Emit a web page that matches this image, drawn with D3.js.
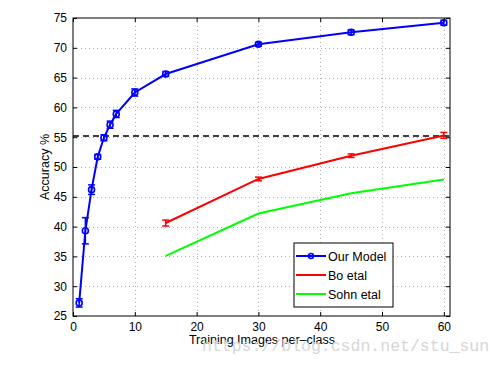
<!DOCTYPE html>
<html>
<head>
<meta charset="utf-8">
<script src="https://cdn.jsdelivr.net/npm/d3@7"></script>
<style>
  body { margin:0; background:#fff; }
  svg { display:block; font-family:"Liberation Sans", Arial, sans-serif; }
</style>
</head>
<body>
<svg id="chart"></svg>
<script>
// data
var imagesPerClass = [1, 2, 3, 4, 5, 6, 7, 10, 15, 30, 45, 60];
var ourModel       = [27.2, 39.3, 46.2, 51.7, 54.9, 57.1, 58.9, 62.5, 65.6, 70.6, 72.6, 74.2];
var ourModelErr    = [0.7, 2.2, 0.8, 0.4, 0.5, 0.6, 0.6, 0.6, 0.4, 0.3, 0.4, 0.4];
var boX            = [15, 30, 45, 60];
var boEtal         = [40.6, 48.0, 51.9, 55.3];
var boErr          = [0.5, 0.3, 0.3, 0.5];
var sohnX          = [15, 30, 45, 60];
var sohnEtal       = [35.1, 42.2, 45.6, 47.9];
var baseline       = 55.2;
var xTicks = [0, 10, 20, 30, 40, 50, 60];
var yTicks = [25, 30, 35, 40, 45, 50, 55, 60, 65, 70, 75];
var legendNames = ["Our Model", "Bo etal", "Sohn etal"];
var colors = ["#0000ff", "#ff0000", "#00ff00"];

var screen = {width:503, height:368};
var plot = {left:73, top:18, right:450, bottom:316};

var svg = d3.select("#chart")
    .attr("width", screen.width)
    .attr("height", screen.height);

var xScale = d3.scaleLinear().domain([0, 61]).range([plot.left, plot.right]);
var yScale = d3.scaleLinear().domain([25, 75]).range([plot.bottom, plot.top]);

// dotted grid
var grid = svg.append("g").attr("stroke", "#b0b0b0").attr("stroke-width", 1).attr("stroke-dasharray", "1,3");
grid.selectAll(".gx").data(xTicks.slice(1)).enter().append("line")
    .attr("x1", function(d){return Math.round(xScale(d)) + 0.5})
    .attr("x2", function(d){return Math.round(xScale(d)) + 0.5})
    .attr("y1", plot.top).attr("y2", plot.bottom);
grid.selectAll(".gy").data(yTicks.slice(1, -1)).enter().append("line")
    .attr("y1", function(d){return Math.round(yScale(d)) + 0.5})
    .attr("y2", function(d){return Math.round(yScale(d)) + 0.5})
    .attr("x1", plot.left).attr("x2", plot.right);

// axes, ticks pointing inside
var xAxis = d3.axisBottom(xScale).tickValues(xTicks).tickSizeInner(-4).tickSizeOuter(0).tickPadding(6);
var yAxis = d3.axisLeft(yScale).tickValues(yTicks).tickSizeInner(-4).tickSizeOuter(0).tickPadding(6);
var xTop = d3.axisTop(xScale).tickValues(xTicks).tickSizeInner(-4).tickSizeOuter(0).tickFormat("");
var yRight = d3.axisRight(yScale).tickValues(yTicks).tickSizeInner(-4).tickSizeOuter(0).tickFormat("");

svg.append("g").attr("transform", "translate(0," + plot.bottom + ")").call(xAxis);
svg.append("g").attr("transform", "translate(" + plot.left + ",0)").call(yAxis);
svg.append("g").attr("transform", "translate(0," + plot.top + ")").call(xTop);
svg.append("g").attr("transform", "translate(" + plot.right + ",0)").call(yRight);
svg.selectAll(".tick text").attr("font-size", 12).attr("fill", "#000")
    .attr("font-family", "'Liberation Sans', Arial, sans-serif");
svg.selectAll(".domain").remove();
svg.append("rect")
    .attr("x", plot.left).attr("y", plot.top)
    .attr("width", plot.right - plot.left).attr("height", plot.bottom - plot.top)
    .attr("fill", "none").attr("stroke", "#000").attr("stroke-width", 1);

// dashed baseline
svg.append("line")
    .attr("x1", plot.left).attr("x2", plot.right)
    .attr("y1", yScale(baseline)).attr("y2", yScale(baseline))
    .attr("stroke", "#000").attr("stroke-width", 1.5).attr("stroke-dasharray", "6,4");

var line = d3.line()
    .x(function(d){return xScale(d[0])})
    .y(function(d){return yScale(d[1])});

var drawErr = function(xs, ys, errs, color, cap){
    var g = svg.append("g").attr("stroke", color).attr("stroke-width", 1.5).attr("fill", "none");
    xs.forEach(function(x, i){
        var cx = xScale(x), lo = yScale(ys[i] - errs[i]), hi = yScale(ys[i] + errs[i]);
        g.append("line").attr("x1", cx).attr("x2", cx).attr("y1", lo).attr("y2", hi);
        g.append("line").attr("x1", cx - cap).attr("x2", cx + cap).attr("y1", lo).attr("y2", lo);
        g.append("line").attr("x1", cx - cap).attr("x2", cx + cap).attr("y1", hi).attr("y2", hi);
    });
}

// Sohn etal
svg.append("path").datum(d3.zip(sohnX, sohnEtal))
    .attr("d", line).attr("fill", "none").attr("stroke", colors[2]).attr("stroke-width", 2);

// Bo etal
svg.append("path").datum(d3.zip(boX, boEtal))
    .attr("d", line).attr("fill", "none").attr("stroke", colors[1]).attr("stroke-width", 2);
drawErr(boX, boEtal, boErr, colors[1], 3.5);

// Our model
svg.append("path").datum(d3.zip(imagesPerClass, ourModel))
    .attr("d", line).attr("fill", "none").attr("stroke", colors[0]).attr("stroke-width", 2);
drawErr(imagesPerClass, ourModel, ourModelErr, colors[0], 3.5);
svg.append("g").selectAll("circle").data(d3.zip(imagesPerClass, ourModel)).enter().append("circle")
    .attr("cx", function(d){return xScale(d[0])})
    .attr("cy", function(d){return yScale(d[1])})
    .attr("r", 3).attr("fill", "none").attr("stroke", colors[0]).attr("stroke-width", 1.6);

// legend
var legend = svg.append("g").attr("transform", "translate(294,243)");
legend.append("rect").attr("width", 99).attr("height", 64)
    .attr("fill", "#fff").attr("stroke", "#000").attr("stroke-width", 1);
var items = legend.selectAll(".item").data(legendNames).enter().append("g")
    .attr("transform", function(d, i){return "translate(0," + (13 + i * 19) + ")"});
items.append("line").attr("x1", 2).attr("x2", 32).attr("y1", 0).attr("y2", 0)
    .attr("stroke", function(d, i){return colors[i]}).attr("stroke-width", 2);
items.filter(function(d, i){return i == 0}).append("circle")
    .attr("cx", 17).attr("cy", 0).attr("r", 2.5)
    .attr("fill", "none").attr("stroke", colors[0]).attr("stroke-width", 1.5);
items.append("text").attr("x", 34).attr("y", 4.5).attr("font-size", 12.5).text(function(d){return d});

// axis titles
svg.append("text").attr("x", 262).attr("y", 344).attr("text-anchor", "middle")
    .attr("font-size", 12.5).text("Training Images per\u2013class");
svg.append("text").attr("transform", "translate(49,167) rotate(-90)").attr("text-anchor", "middle")
    .attr("font-size", 12.5).text("Accuracy %");

// watermark
svg.append("text").attr("x", 202).attr("y", 351)
    .attr("font-family", "'Liberation Mono', 'DejaVu Sans Mono', monospace")
    .attr("font-size", 16.5).attr("fill", "#d6d6d6")
    .text("https://blog.csdn.net/stu_sun");
</script>
</body>
</html>
